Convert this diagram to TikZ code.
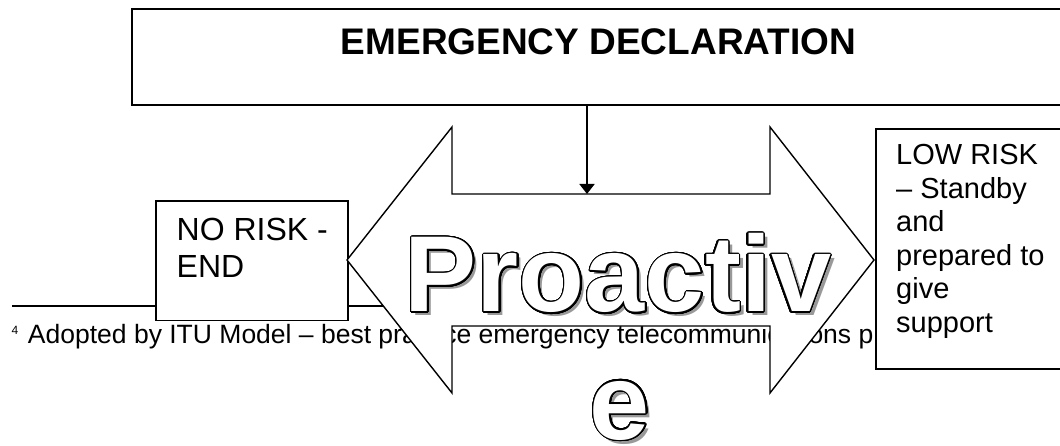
\documentclass[tikz,border=0pt]{standalone}
\usepackage{fontspec}
\setmainfont{Liberation Sans}
\usepackage[copies]{contour}
\usetikzlibrary{arrows.meta}
\contourlength{1.3pt}
\contournumber{32}
\definecolor{shadowgray}{gray}{0.6}
\tikzset{
  panel/.style={draw, line width=1.8pt, fill=white, inner sep=0pt},
  bodytext/.style={inner sep=0pt, align=left, anchor=north west},
  bigword/.style={font=\bfseries\fontsize{108}{127}\selectfont, inner sep=0pt, anchor=base},
  shadowword/.style={bigword, text=shadowgray},
  outlineword/.style={bigword, text=white}
}
\begin{document}
\begin{tikzpicture}[x=1pt, y=-1pt, line join=miter]
\useasboundingbox (0,0) rectangle (1060,446);
\clip (0,0) rectangle (1060,446);

% footnote separator and footnote text
\coordinate (ruleA) at (12,306);
\coordinate (ruleB) at (420,306);
\draw[line width=1.4pt] (ruleA) -- (ruleB);
\node[inner sep=0pt, anchor=base west, font=\fontsize{26.5}{30}\selectfont] (note) at (11.5,343)
  {\raisebox{9pt}{\fontsize{12}{14}\selectfont 4}\hspace{9.6pt}Adopted by ITU Model -- best practice emergency telecommunications p};

% left outcome box
\node[panel, anchor=north west, minimum width=192, minimum height=119] (norisk) at (155,200.5) {};
\node[bodytext, font=\fontsize{32}{36.7}\selectfont] (noriskt) at (176.5,218.3) {NO RISK -\\END};

% double-headed arrow
\draw[line width=1.4pt, fill=white]
  (347,260) -- (452,127) -- (452,194) -- (770,194) -- (770,127) -- (874,260)
  -- (770,393) -- (770,326) -- (452,326) -- (452,393) -- cycle;

% right outcome box
\node[panel, anchor=north west, minimum width=220, minimum height=240] (lowrisk) at (875,128) {};
\node[bodytext, font=\fontsize{29}{33.6}\selectfont] (lowriskt) at (896,144)
  {LOW RISK\\-- Standby\\and\\prepared to\\give\\support};

% declaration box
\node[panel, anchor=north west, minimum width=934, minimum height=96] (decl) at (131,8) {};
\node[inner sep=0pt, anchor=base, font=\bfseries\fontsize{37}{44}\selectfont] (declt) at (598.5,55) {EMERGENCY DECLARATION};

% drop arrow onto the double arrow
\coordinate (hit) at (587,194);
\draw[line width=1.8pt, -{Triangle[width=15pt,length=10pt]}] (decl.south -| hit) -- (hit);

% outlined word with drop shadow
\node[shadowword] (proS) at (622,316) {Proactiv};
\node[shadowword] (eS) at (624,443) {e};
\node[outlineword] (pro) at (618,312) {\contour{black}{Proactiv}};
\node[outlineword] (pe) at (620,439) {\contour{black}{e}};
\end{tikzpicture}
\end{document}
